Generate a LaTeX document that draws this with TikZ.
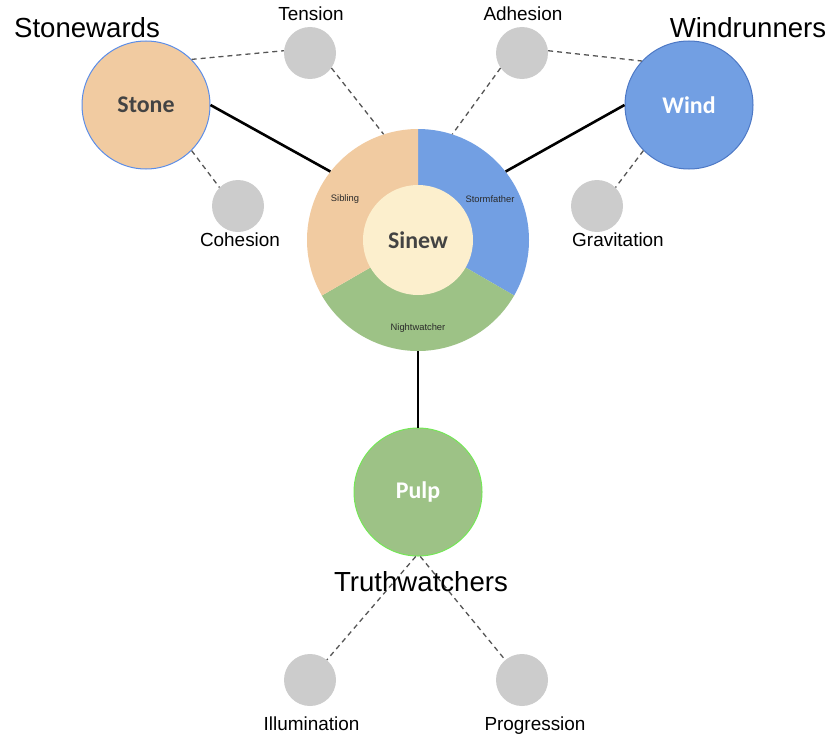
\documentclass[tikz,border=0pt]{standalone}
\usepackage{fontspec}
\setmainfont{Liberation Sans}
\newfontfamily\carl{Carlito}
\definecolor{cOrange}{HTML}{F1CBA1}
\definecolor{cBlue}{HTML}{729FE3}
\definecolor{cGreen}{HTML}{9DC286}
\definecolor{cCream}{HTML}{FCEFCD}
\definecolor{cGray}{HTML}{CCCCCC}
\definecolor{cDash}{HTML}{555555}
\definecolor{cText}{HTML}{434343}
\definecolor{cSeg}{HTML}{2A2A2A}
\definecolor{cBorderBlue}{HTML}{5B8DE8}
\definecolor{cBorderGreen}{HTML}{74E856}
\tikzset{
  bignode/.style={circle, minimum size=128bp, inner sep=0pt, line width=1bp, font=\carl\bfseries\fontsize{24}{28}\selectfont},
  graynode/.style={circle, fill=cGray, minimum size=52bp, inner sep=0pt},
  smalllabel/.style={font=\fontsize{19}{22}\selectfont, text=black, anchor=base, inner sep=0pt},
  biglabel/.style={font=\fontsize{27.7}{32}\selectfont, text=black},
  seglabel/.style={font=\fontsize{9.4}{11}\selectfont, text=cSeg},
  dashline/.style={draw=cDash, line width=1.3bp, dash pattern=on 5bp off 4bp},
  solidline/.style={draw=black, line width=2.6bp}
}
\begin{document}
\begin{tikzpicture}[x=1bp,y=1bp]
\useasboundingbox (0,0) rectangle (839,-750);
% central donut
\coordinate (c) at (418,-240);
\fill[cBlue] (c) -- ++(90:111) arc[start angle=90, end angle=-30, radius=111] -- cycle;
\fill[cGreen] (c) -- ++(-30:111) arc[start angle=-30, end angle=-150, radius=111] -- cycle;
\fill[cOrange] (c) -- ++(210:111) arc[start angle=210, end angle=90, radius=111] -- cycle;
\node[circle, minimum size=222bp, inner sep=0pt] (sinew) at (c) {};
\node[circle, fill=cCream, minimum size=110bp, inner sep=0pt, text=cText, font=\carl\bfseries\fontsize{24}{28}\selectfont] (sinewin) at (c) {Sinew};
\node[seglabel] (sib) at (345,-199) {Sibling};
\node[seglabel] (storm) at (490,-199) {Stormfather};
\node[seglabel] (night) at (418,-328) {Nightwatcher};
% big nodes
\node[bignode, fill=cOrange, draw=cBorderBlue, text=cText] (stone) at (146,-105) {Stone};
\node[bignode, fill=cBlue, draw=cBorderBlue!85!black, text=white] (wind) at (689,-105) {Wind};
\node[bignode, fill=cGreen, draw=cBorderGreen, text=white] (pulp) at (418,-492) {Pulp};
% gray nodes
\node[graynode] (tension) at (310,-53) {};
\node[graynode] (adhesion) at (522,-53) {};
\node[graynode] (cohesion) at (238,-206) {};
\node[graynode] (gravitation) at (597,-206) {};
\node[graynode] (illumination) at (310,-680) {};
\node[graynode] (progression) at (522,-680) {};
% labels
\node[smalllabel] (lten) at (311,-21) {Tension};
\node[smalllabel] (ladh) at (523,-21) {Adhesion};
\node[smalllabel] (lcoh) at (240,-246) {Cohesion};
\node[smalllabel] (lgra) at (618,-246) {Gravitation};
\node[smalllabel] (lill) at (311.5,-730) {Illumination};
\node[smalllabel] (lpro) at (535,-730) {Progression};
% solid connectors
\draw[solidline] (stone.0) -- (sinew.142);
\draw[solidline] (wind.180) -- (sinew.38);
\draw[solidline] (sinew.south) -- (pulp.north);
% dashed connectors
\draw[dashline] (stone.45) -- (tension.175);
\draw[dashline] (tension.-35) -- (sinew.108);
\draw[dashline] (adhesion.-145) -- (sinew.72);
\draw[dashline] (adhesion.5) -- (wind.137);
\draw[dashline] (stone.-45) -- (cohesion.135);
\draw[dashline] (wind.-135) -- (gravitation.45);
\draw[dashline] (pulp.-92) -- (illumination.50);
\draw[dashline] (pulp.-88) -- (progression.130);
% group titles
\node[biglabel] (tstone) at (87,-28) {Stonewards};
\node[biglabel] (twind) at (748,-28) {Windrunners};
\node[biglabel] (ttruth) at (421,-582) {Truthwatchers};
\end{tikzpicture}
\end{document}
